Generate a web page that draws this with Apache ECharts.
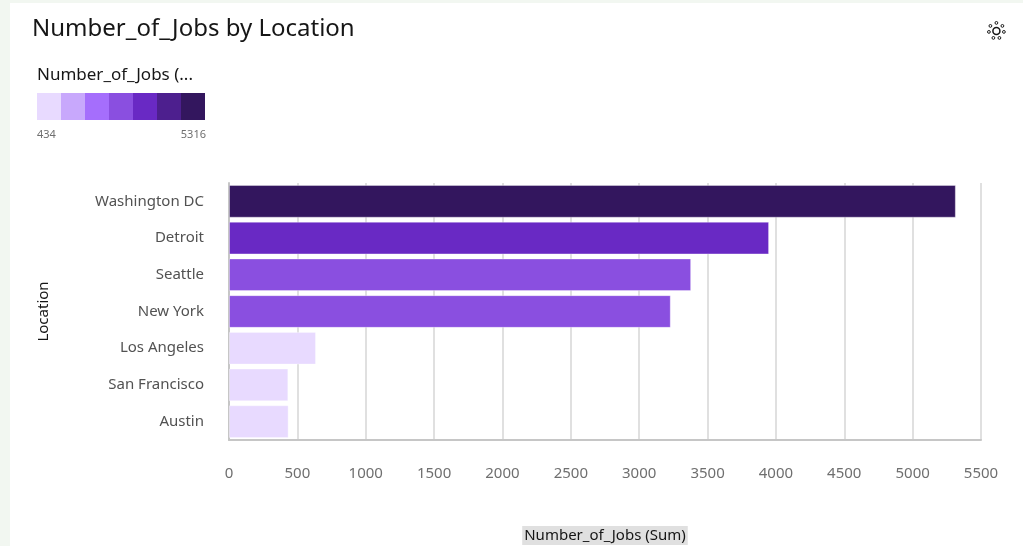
<!DOCTYPE html>
<html><head><meta charset="utf-8">
<script src="https://cdn.jsdelivr.net/npm/echarts@6/dist/echarts.min.js"></script>
<style>
html,body{margin:0;padding:0;background:#f2f7f1;overflow:hidden;}
#c{position:absolute;left:10px;top:3px;width:1013px;height:543px;background:#fff;}
</style></head><body><div id="c"></div>
<script>
const categories = ['Washington DC','Detroit','Seattle','New York','Los Angeles','San Francisco','Austin'];
const jobs = [5316, 3950, 3380, 3231, 636, 434, 436];
const xTicks = [0,500,1000,1500,2000,2500,3000,3500,4000,4500,5000,5500];
const palette = ['#e8daff','#c8a8fc','#a56efc','#8a4fe0','#6929c4','#4d1f8e','#33165e'];
const binEdges = [434, 1100, 1800, 2500, 3500, 4200, 4900, 5316];

const chart = echarts.init(document.getElementById('c'));
const FF = '"Noto Sans", "Open Sans", sans-serif';
const pieces = palette.map((c,i)=>({gte:binEdges[i], lt: i===palette.length-1 ? binEdges[i+1]+1 : binEdges[i+1], color:c}));
chart.setOption({
  animation:false,
  textStyle:{fontFamily:FF},
  title:{text:'Number_of_Jobs by Location', left:22, top:14, padding:0,
    textStyle:{fontSize:24, fontWeight:'normal', color:'#161616', fontFamily:FF}},
  visualMap:{type:'piecewise', orient:'horizontal', left:27, top:90, padding:0, itemWidth:24, itemHeight:27,
    itemGap:0, showLabel:false, itemSymbol:'rect', pieces:pieces, dimension:0, seriesIndex:0,
    hoverLink:false, selectedMode:false},
  graphic:[
    {type:'text', left:27, top:64, style:{text:'Number_of_Jobs (...', fontSize:17, fill:'#161616', fontFamily:FF}},
    {type:'text', left:27, top:126, style:{text:String(Math.min(...jobs)), fontSize:11, fill:'#6f6f6f', fontFamily:FF}},
    {type:'text', right:1013-196, top:126, style:{text:String(Math.max(...jobs)), fontSize:11, fill:'#6f6f6f', fontFamily:FF, align:'right'}},
    {type:'group', left:975, top:16, children:[
      {type:'circle', shape:{cx:10,cy:11,r:3.5}, style:{fill:'none', stroke:'#161616', lineWidth:1.5}},
      {type:'circle', shape:{cx:10,cy:3,r:1.4}, style:{fill:'none', stroke:'#161616', lineWidth:1}},
      {type:'circle', shape:{cx:4,cy:6,r:1.4}, style:{fill:'none', stroke:'#161616', lineWidth:1}},
      {type:'circle', shape:{cx:16,cy:6,r:1.4}, style:{fill:'none', stroke:'#161616', lineWidth:1}},
      {type:'circle', shape:{cx:2.5,cy:12,r:1.4}, style:{fill:'none', stroke:'#161616', lineWidth:1}},
      {type:'circle', shape:{cx:17.5,cy:12,r:1.4}, style:{fill:'none', stroke:'#161616', lineWidth:1}},
      {type:'circle', shape:{cx:7,cy:18,r:1.4}, style:{fill:'none', stroke:'#161616', lineWidth:1}},
      {type:'circle', shape:{cx:13,cy:18,r:1.4}, style:{fill:'none', stroke:'#161616', lineWidth:1}}
    ]}
  ],
  grid:{left:219, right:42, top:180, bottom:95, containLabel:false},
  xAxis:{type:'value', min:xTicks[0], max:xTicks[xTicks.length-1], interval:xTicks[1]-xTicks[0],
    name:'Number_of_Jobs (Sum)', nameLocation:'middle', nameGap:86,
    nameTextStyle:{fontSize:15, color:'#161616', backgroundColor:'#e0e0e0', padding:[2,2,2,2]},
    axisLine:{show:true, lineStyle:{color:'#c6c6c6', width:2}},
    axisTick:{show:false},
    axisLabel:{fontSize:15, color:'#6f6f6f', margin:26, formatter:v=>String(v)},
    splitLine:{show:true, lineStyle:{color:'#e0e0e0', width:2}}},
  yAxis:{type:'category', data:categories, inverse:true,
    name:'Location', nameLocation:'middle', nameGap:178, nameRotate:90,
    nameTextStyle:{fontSize:15, color:'#161616'},
    axisLine:{show:true, lineStyle:{color:'#c6c6c6', width:2}},
    axisTick:{show:false},
    axisLabel:{fontSize:15, color:'#525252', margin:25}},
  series:[{type:'bar', data:jobs, barCategoryGap:'11%',
    itemStyle:{borderColor:'rgba(255,255,255,0.35)', borderWidth:1}}]
});
</script></body></html>
